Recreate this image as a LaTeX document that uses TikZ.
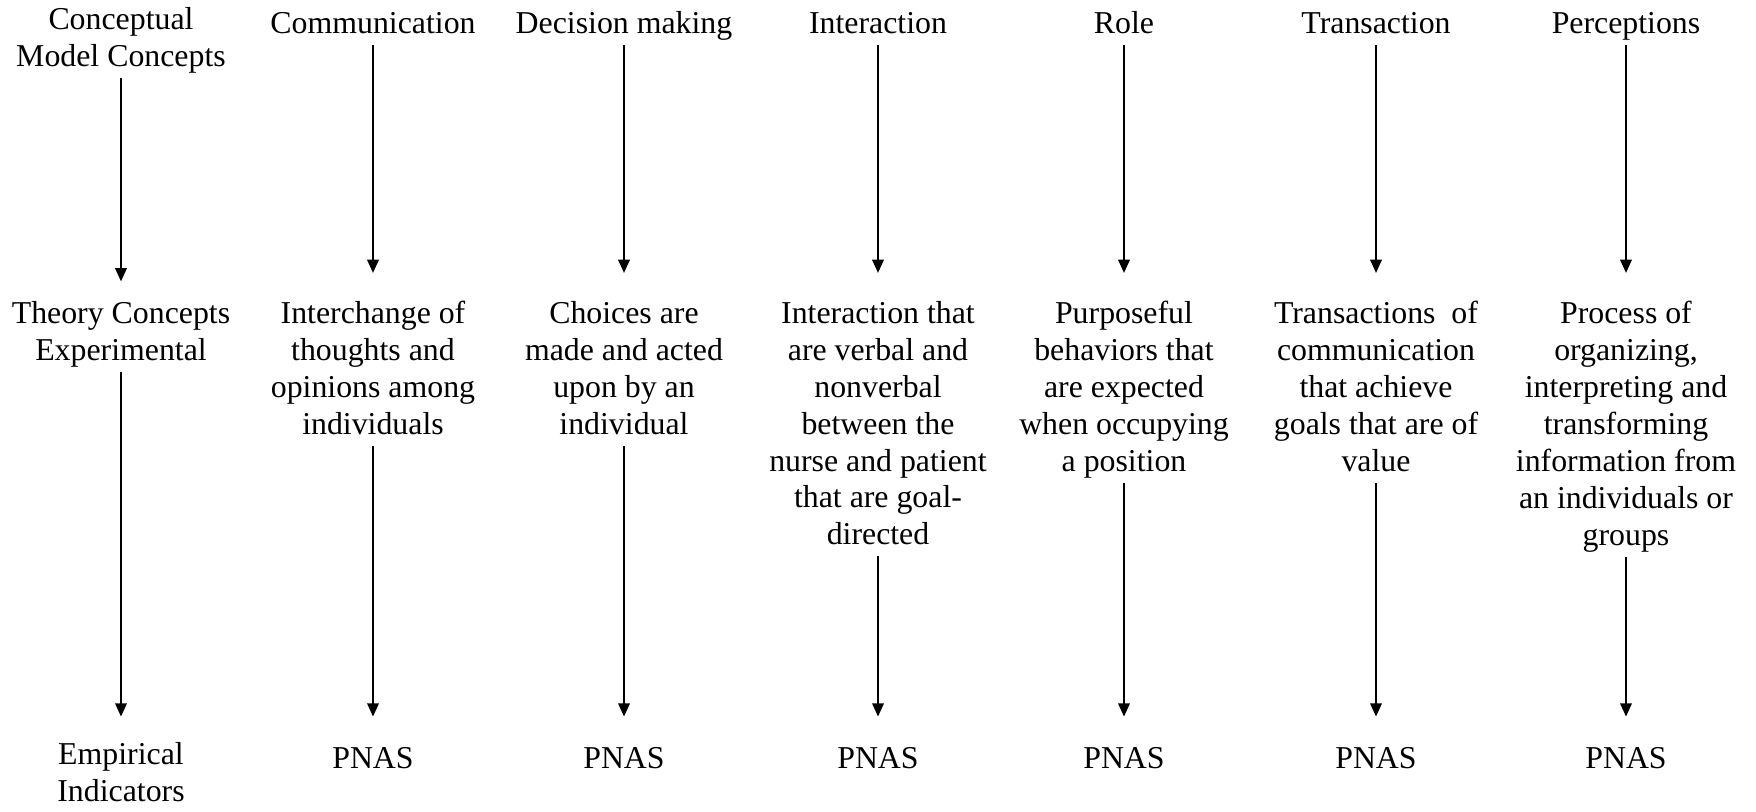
\documentclass[tikz,border=0pt]{standalone}
\usepackage{fontspec}
\setmainfont{Liberation Serif}
\usetikzlibrary{arrows.meta}

\begin{document}
\begin{tikzpicture}[x=0.377pt, y=-0.377pt,
    every node/.style={font=\fontsize{12}{13.9}\selectfont, align=center, anchor=north,
      inner sep=0pt, execute at begin node=\strut, execute at end node=\strut},
    link/.style={-{Triangle[length=5pt,width=4.4pt]}, line width=0.6pt},
    uplink/.style={link, shorten >=10.6pt},
    lowlink/.style={link, shorten >=9.6pt}]
  \useasboundingbox (0,0) rectangle (1756,812);
  % top row: model concepts
  \node (cmc)   at (121,7)  {Conceptual\\Model Concepts};
  \node (comm)  at (373,7)  {Communication};
  \node (dec)   at (624,7)  {Decision making};
  \node (inter) at (878,7)  {Interaction};
  \node (role)  at (1124,7) {Role};
  \node (trans) at (1376,7) {Transaction};
  \node (perc)  at (1626,7) {Perceptions};
  % middle row: theory concepts
  \node (tce)      at (121,301)  {Theory Concepts\\Experimental};
  \node (commdef)  at (373,301)  {Interchange of\\thoughts and\\opinions among\\individuals};
  \node (decdef)   at (624,301)  {Choices are\\made and acted\\upon by an\\individual};
  \node (interdef) at (878,301)  {Interaction that\\are verbal and\\nonverbal\\between the\\nurse and patient\\that are goal-\\directed};
  \node (roledef)  at (1124,301) {Purposeful\\behaviors that\\are expected\\when occupying\\a position};
  \node (transdef) at (1376,301) {Transactions\ \ of\\communication\\that achieve\\goals that are of\\value};
  \node (percdef)  at (1626,301) {Process of\\organizing,\\interpreting and\\transforming\\information from\\an individuals or\\groups};
  % bottom row: empirical indicators
  \node (emp)     at (121,742)  {Empirical\\Indicators};
  \node (commind) at (373,742)  {PNAS};
  \node (decind)  at (624,742)  {PNAS};
  \node (intind)  at (878,742)  {PNAS};
  \node (roleind) at (1124,742) {PNAS};
  \node (trind)   at (1376,742) {PNAS};
  \node (pcind)   at (1626,742) {PNAS};

  \draw[link, shorten >=7.4pt] (cmc) -- (tce);
  \draw[uplink] (comm) -- (commdef);
  \draw[uplink] (dec) -- (decdef);
  \draw[uplink] (inter) -- (interdef);
  \draw[uplink] (role) -- (roledef);
  \draw[uplink] (trans) -- (transdef);
  \draw[uplink] (perc) -- (percdef);

  \draw[lowlink] (tce) -- (emp);
  \draw[lowlink] (commdef) -- (commind);
  \draw[lowlink] (decdef) -- (decind);
  \draw[lowlink] (interdef) -- (intind);
  \draw[lowlink] (roledef) -- (roleind);
  \draw[lowlink] (transdef) -- (trind);
  \draw[lowlink] (percdef) -- (pcind);
\end{tikzpicture}
\end{document}
